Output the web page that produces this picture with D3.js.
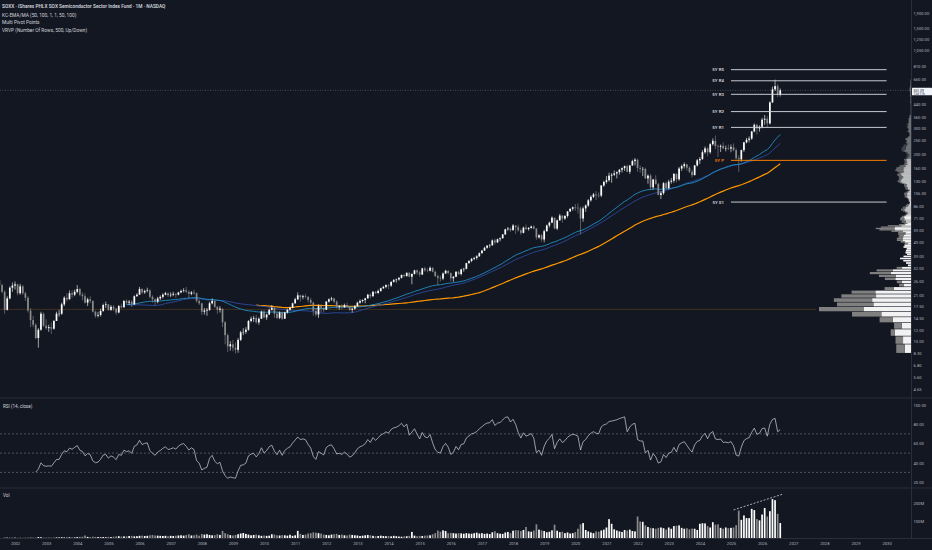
<!DOCTYPE html>
<html lang="en">
<head>
<meta charset="UTF-8">
<title>SOXX monthly</title>
<script src="https://cdn.jsdelivr.net/npm/d3@7"></script>
<style>
  body { margin: 0; background: #131722; }
  svg { display: block; font-family: Roboto, "Noto Sans", sans-serif; }
</style>
</head>
<body>
<script>
// ---- data (monthly bars, first bar = Jul 2001) ----
const firstOpen = 26.5;

const closes = [
  24.5, 22, 16.5, 19.8, 23.5, 24.3,                                   // 2001 Jul-Dec
  24.8, 21.5, 24, 21.5, 20, 16.3, 14, 13, 10.5, 12, 15.5, 12.8,       // 2002
  12.3, 12.5, 12.2, 13.8, 15.5, 15.5, 18, 20, 19.5, 21.5, 21, 22,     // 2003
  23, 21, 20.5, 18.5, 19.5, 19, 16, 15, 15.2, 16.2, 17.8, 18,         // 2004
  16.5, 17.3, 16.8, 15.8, 17.5, 17.2, 19, 18.5, 18.8, 18, 20.5, 21,   // 2005
  23, 21.8, 22.3, 22.5, 20.3, 19.5, 18.8, 19.8, 20.3, 21, 21.5, 20.8, // 2006
  21, 21.3, 21, 21.8, 22.3, 22.5, 22, 21.3, 21.8, 21.5, 19, 18.3,     // 2007
  16, 16.3, 16.5, 18.3, 19, 17.3, 16.5, 16.8, 13.5, 11, 9.2, 9.5,     // 2008
  9, 8.7, 10.2, 11.5, 11.6, 12, 13.8, 14.3, 14.5, 13.5, 14.3, 16,     // 2009
  14.6, 15.3, 16.5, 17, 15.5, 14.5, 15.8, 14.3, 15.8, 16.5, 17, 18.3, // 2010
  19.5, 20.8, 20.2, 20.5, 20.3, 19.3, 18.5, 16.2, 15.3, 17.5, 17, 16.5, // 2011
  18.8, 19.5, 19.8, 18.8, 17.3, 17.5, 17.2, 17.8, 17.3, 16.5, 16.8, 17.5, // 2012
  18.5, 19, 19.3, 19.8, 21, 20.5, 22, 21.5, 22.3, 23.3, 23.8, 24.5,   // 2013
  24.3, 25.8, 26.5, 26.8, 27.5, 28.8, 28.3, 29.8, 28, 29.3, 31, 30,   // 2014
  29, 32, 31, 30.8, 32.3, 30.3, 28.3, 27.5, 27.2, 29.5, 30.8, 29.7,   // 2015
  27.3, 28, 30.3, 29.2, 31.5, 31.8, 34.8, 36, 37.3, 37.8, 38.8, 40.8, // 2016
  42.5, 44.5, 46, 46.3, 50, 48.5, 51, 51.8, 55, 59.8, 60.5, 59,       // 2017
  63.5, 61.8, 58.8, 56.5, 61.5, 60, 61, 62.5, 60.5, 52.5, 54.3, 50.8, // 2018
  58, 63.5, 66.5, 72, 60.5, 69, 74.5, 71, 74, 79.5, 83, 85,           // 2019
  84.5, 83.5, 71, 83.5, 87.5, 95, 100.5, 104.5, 103, 102.5, 120.5, 127.5, // 2020
  131, 141, 143, 146, 149, 155, 159, 164, 150, 166, 178, 182,         // 2021
  159.5, 157, 157, 135, 141, 117, 132.5, 123.5, 103.5, 106.5, 125, 115.5, // 2022
  128, 130, 145, 133, 158, 164, 169, 160, 150, 142, 166, 180,         // 2023
  184, 205, 218, 205, 233, 246, 226, 224, 227, 218, 219, 217.4,       // 2024
  222, 212, 186, 183, 212, 240, 250, 255, 286, 318, 300, 308,         // 2025
  345, 350, 325, 455, 560, 590, 515, 551.39                           // 2026 Jan-Aug
];

const highs = [
  27, 25, 22.5, 20.5, 24, 25.5,
  26, 25, 25, 24.5, 22, 20.5, 17, 15, 13.3, 12.3, 16, 15.8,
  14.2, 13, 13.5, 14, 16, 16.5, 18.5, 20.5, 21.5, 22.5, 22.5, 22.8,
  24.5, 23.5, 21.8, 21.5, 20, 20.5, 19.2, 16.3, 16, 16.8, 18.2, 18.8,
  18, 17.8, 17.8, 17, 17.8, 18.2, 19.3, 19.5, 19.3, 19.2, 20.8, 21.5,
  23.8, 23.3, 22.8, 23.5, 23, 20.8, 19.8, 20.3, 20.8, 21.5, 22, 21.8,
  21.8, 22, 21.5, 22, 22.8, 23.3, 23.8, 22.5, 22.3, 22.8, 21.8, 19.5,
  18.5, 17, 17, 18.8, 19.8, 19.3, 17.5, 17.5, 16.8, 13.8, 11.3, 10,
  10.2, 9.8, 10.5, 11.8, 12.3, 12.5, 14, 14.8, 15, 15.2, 14.6, 16.3,
  16.5, 15.5, 16.8, 17.8, 17.3, 16.2, 16.1, 16, 16, 16.8, 17.4, 18.5,
  20, 21.8, 21, 21, 21.2, 20.5, 20, 18.8, 17, 18, 17.8, 17.3,
  19, 19.8, 20.3, 20, 19.2, 17.8, 18, 18.2, 18.5, 17.5, 17, 17.8,
  18.8, 19.5, 19.5, 20, 21.3, 21.5, 22.3, 22.3, 22.8, 23.5, 24.2, 24.8,
  25, 26, 27, 27.2, 27.8, 29, 29.3, 30, 30.2, 29.5, 31.3, 31.5,
  30.8, 32.3, 32.8, 32, 33, 32.5, 30.8, 29, 28.5, 30, 31.3, 31,
  30, 28.3, 30.6, 30.8, 31.8, 32.3, 35, 36.5, 37.8, 38.5, 39.5, 41.3,
  43, 45.2, 46.5, 47.3, 50.8, 51.5, 51.5, 52.5, 55.5, 60.3, 62, 61.5,
  65, 64, 64.5, 60.5, 62.3, 64.5, 62, 63.5, 63.8, 61, 55.3, 55.5,
  59.5, 64.5, 67.5, 73.5, 72, 70, 76.5, 74.5, 75, 80, 83.5, 86,
  89.5, 90.5, 86, 86, 89, 97, 103, 107, 110, 108, 121.5, 130,
  140, 148, 147, 153, 151, 157, 161, 166, 168, 167, 182, 187,
  185, 166, 162, 160, 144, 145, 134, 142, 126, 110, 127, 129,
  132, 136, 147, 146, 162, 168, 174, 170, 164, 155, 167, 184,
  190, 212, 225, 222, 237, 256, 267.6, 232, 232, 240, 228, 232,
  232, 236, 218, 195, 214, 242, 258, 264, 288, 325, 322, 315,
  355, 372, 365, 462, 585, 655, 610, 568
];

const lows = [
  22.8, 21.5, 15.5, 16.3, 19.5, 22,
  22.8, 20.8, 21, 21, 19, 15.8, 12.5, 12.5, 10.3, 9, 11.8, 12.5,
  12, 11.6, 11.2, 12, 13.8, 14.8, 15.2, 17.5, 18.8, 19.5, 20, 20.5,
  21.5, 20.5, 19.2, 18.2, 17.5, 18.3, 15.8, 14.5, 14.6, 14.8, 16, 17,
  16.2, 16.2, 16.2, 15.2, 15.6, 16.8, 17, 18, 17.8, 17.2, 17.8, 20.3,
  21, 21.2, 21.3, 21.8, 19.8, 18.5, 17.8, 18.3, 19.3, 19.8, 20.8, 20.2,
  20.2, 20.5, 20, 20.8, 21.5, 21.8, 21.5, 19.8, 20.8, 21, 18.5, 17.8,
  15.2, 15.3, 15, 16.2, 18, 17, 15.5, 15.8, 12.5, 9.5, 8.4, 8.6,
  8.5, 8.2, 8.3, 10, 11, 11.2, 11.8, 13.5, 13.6, 13.2, 13, 14.3,
  14.3, 14, 15.2, 16.3, 14.5, 14.2, 14.2, 14, 14.3, 15.5, 16.3, 16.9,
  18.2, 19.3, 18.8, 19.5, 19.8, 18.5, 18, 15, 14.8, 14.5, 15.8, 15.8,
  16.5, 18.5, 19, 18.3, 16.8, 16.5, 16.6, 17, 17, 16.2, 15.8, 16.5,
  17.3, 18.2, 18.5, 18.3, 19.8, 19.8, 20.3, 21.2, 21.5, 22, 23, 23.3,
  23, 23.8, 25.5, 25.5, 26.3, 27.2, 27.8, 28, 27.8, 24.8, 29, 29,
  28, 28.8, 30.3, 30, 30.5, 30, 27.8, 24.5, 26, 26.5, 29.3, 29,
  26, 25.8, 27.8, 28.8, 28.6, 30.3, 31.5, 34.5, 35.3, 36.5, 36.8, 38.5,
  40.5, 42.3, 43.8, 44.5, 46, 46.8, 48, 49.3, 51.5, 55, 58.3, 57.3,
  58.5, 55.5, 57.5, 54.8, 56, 59, 58.5, 60.5, 59.5, 50.5, 51.5, 49,
  48.5, 57.5, 61.5, 66, 60, 59, 68.5, 66.5, 69.5, 72, 79, 80.5,
  80.5, 77, 55, 67.5, 79, 85.5, 93, 98.5, 95.5, 99, 100, 118,
  124, 128, 126, 140, 135, 143, 148, 152, 149, 145, 165, 166,
  150, 148, 140, 134, 124, 112, 113, 122, 103, 97, 104, 113,
  113, 124, 126, 127, 130, 152, 158, 153, 147, 137, 142, 163,
  170, 181, 200, 192, 200, 228, 215, 190, 206, 215, 208, 212,
  205, 208, 182, 150, 176, 206, 236, 240, 250, 282, 272, 285,
  300, 318, 305, 320, 450, 545, 495, 500
];

// monthly volume, millions of shares
const volumes = [
  3, 3, 6, 5, 4, 4,
  5, 4, 4, 4, 5, 5, 7, 5, 5, 8, 7, 5,
  5, 4, 5, 4, 6, 6, 7, 6, 7, 7, 6, 6,
  8, 9, 10, 17, 9, 8, 10, 9, 8, 7, 8, 7,
  9, 8, 10, 12, 13, 11, 12, 12, 14, 15, 12, 13,
  15, 16, 14, 15, 18, 20, 17, 16, 15, 14, 15, 13,
  15, 14, 16, 17, 18, 16, 20, 24, 17, 18, 22, 16,
  25, 22, 24, 20, 18, 19, 24, 20, 43, 30, 24, 19,
  17, 20, 24, 28, 31, 26, 22, 18, 20, 22, 18, 15,
  17, 15, 16, 24, 22, 18, 17, 19, 18, 16, 21, 15,
  18, 43, 26, 20, 22, 28, 30, 35, 33, 30, 28, 22,
  20, 18, 22, 24, 26, 20, 22, 18, 17, 22, 20, 18,
  17, 14, 16, 18, 20, 18, 15, 13, 14, 16, 14, 13,
  14, 12, 15, 13, 11, 10, 12, 13, 15, 37, 16, 13,
  15, 14, 16, 17, 18, 24, 30, 45, 38, 46, 42, 30,
  32, 30, 28, 30, 29, 27, 30, 28, 27, 30, 33, 28,
  30, 26, 28, 25, 35, 41, 30, 27, 26, 34, 37, 30,
  44, 47, 46, 42, 48, 65, 40, 38, 45, 80, 50, 46,
  42, 35, 38, 46, 78, 44, 36, 38, 30, 34, 28, 30,
  36, 55, 80, 87, 48, 40, 34, 30, 40, 38, 45, 50,
  62, 109, 83, 52, 45, 40, 37, 48, 45, 50, 42, 40,
  124, 96, 94, 74, 65, 60, 58, 55, 60, 62, 58, 50,
  62, 55, 70, 72, 74, 60, 55, 58, 52, 56, 55, 48,
  83, 86, 85, 70, 62, 92, 78, 80, 60, 55, 62, 58,
  60, 62, 75, 157, 105, 130, 115, 115, 167, 160, 110, 102,
  135, 172, 124, 154, 222, 216, 139, 87
];

const priceTicks = [1900, 1500, 1250, 1050, 810, 660, 440, 360, 300, 250, 200, 160, 130, 106,
  86, 71, 59, 49, 39, 32, 26, 21, 17.5, 14.5, 12, 10, 8.3, 6.8, 5.6, 4.65];
const rsiTicks = [100, 80, 60, 40, 20];
const rsiBands = [70, 50, 30];
const volTicks = [200, 100];
const years = d3.range(2002, 2031);

// user drawn volume trend line: [bar index, volume M]
const volTrend = [[283, 161], [302, 250]];

const legendLines = [
  'SOXX · iShares PHLX SOX Semiconductor Sector Index Fund · 1M · NASDAQ',
  'KC-EMA/MA (50, 100, 1, 1, 50, 100)',
  'Multi Pivot Points',
  'VRVP (Number Of Rows, 500, Up/Down)'
];

// ---- layout ----
const W = 932, H = 550, axisX = 911;
const colUp = '#ffffff', colDn = '#8a8a8a';

const svg = d3.select('body').append('svg').attr('width', W).attr('height', H);
svg.append('rect').attr('width', W).attr('height', H).attr('fill', '#131722');

const defs = svg.append('defs');
defs.append('clipPath').attr('id', 'clipMain').append('rect').attr('width', axisX).attr('height', 398);
defs.append('clipPath').attr('id', 'clipRsi').append('rect').attr('y', 398).attr('width', axisX).attr('height', 90);
defs.append('clipPath').attr('id', 'clipVol').append('rect').attr('y', 488).attr('width', axisX).attr('height', 50.5);

const yearOf = i => 2001 + Math.floor((i + 6) / 12);
const idxOf = yr => (yr - 2002) * 12 + 6;

const x = d3.scaleLinear().domain([6, 342]).range([15, 886.6]);
const y = d3.scaleLog().domain([1900, 4.65]).range([13, 389]);
const yRsi = d3.scaleLinear().domain([100, 20]).range([405, 482]);
const yVol = d3.scaleLinear().domain([0, 200]).range([538.5, 503]);

// monthly open taken as the prior month's close
const bars = closes.map((c, i) => ({
  i, c, o: i ? closes[i - 1] : firstOpen, h: highs[i], l: lows[i], v: volumes[i]
}));

// ---- indicators ----
function sma(src, len) {
  return src.map((d, i) => i < len - 1 ? null : d3.mean(src.slice(i - len + 1, i + 1)));
}
function ema(src, len) {
  const a = 2 / (len + 1), out = src.map(() => null);
  for (let i = len - 1; i < src.length; i++) {
    out[i] = i === len - 1 ? d3.mean(src.slice(0, len)) : a * src[i] + (1 - a) * out[i - 1];
  }
  return out;
}
function rsi(src, len) {
  const out = src.map(() => null);
  let up = 0, dn = 0;
  for (let i = 1; i < src.length; i++) {
    const ch = src[i] - src[i - 1];
    const u = Math.max(ch, 0), d = Math.max(-ch, 0);
    if (i <= len) { up += u / len; dn += d / len; }
    else { up = (up * (len - 1) + u) / len; dn = (dn * (len - 1) + d) / len; }
    if (i >= len) out[i] = dn === 0 ? 100 : 100 - 100 / (1 + up / dn);
  }
  return out;
}

const ema50 = ema(closes, 50);
const sma50 = sma(closes, 50);
const sma100 = sma(closes, 100);
const rsi14 = rsi(closes, 14);

// ---- main pane ----
const main = svg.append('g').attr('clip-path', 'url(#clipMain)');

// volume profile (visible range, 500 rows, up/down)
const lo = d3.min(lows), hi = d3.max(highs), nRows = 500, step = (hi - lo) / nRows;
const rows = d3.range(nRows).map(k => ({ lo: lo + k * step, hi: lo + (k + 1) * step, up: 0, dn: 0 }));
bars.forEach(b => {
  const span = b.h - b.l;
  const k0 = Math.max(0, Math.floor((b.l - lo) / step));
  const k1 = Math.min(nRows - 1, Math.floor((b.h - lo) / step));
  for (let k = k0; k <= k1; k++) {
    const ov = Math.min(b.h, rows[k].hi) - Math.max(b.l, rows[k].lo);
    if (ov <= 0) continue;
    const part = b.v * ov / span;
    if (b.c >= b.o) rows[k].up += part; else rows[k].dn += part;
  }
});
rows.forEach(r => r.tot = r.up + r.dn);
const pocIdx = d3.maxIndex(rows, r => r.tot);
const poc = rows[pocIdx];
// value area 70%
const total = d3.sum(rows, r => r.tot);
let vaLo = pocIdx, vaHi = pocIdx, vaSum = poc.tot;
while (vaSum < total * 0.7 && (vaLo > 0 || vaHi < nRows - 1)) {
  const below = vaLo > 0 ? rows[vaLo - 1].tot : -1;
  const above = vaHi < nRows - 1 ? rows[vaHi + 1].tot : -1;
  if (above >= below) { vaHi++; vaSum += above; } else { vaLo--; vaSum += below; }
}
const wScale = d3.scaleLinear().domain([0, poc.tot]).range([0, 92]);
const prof = main.append('g');
rows.forEach((r, k) => {
  const top = y(r.hi), bot = y(r.lo);
  let h = bot - top;
  if (h > 2) h -= 0.6;
  const inVA = k >= vaLo && k <= vaHi;
  const op = inVA ? 1 : 0.5;
  const wu = wScale(r.up), wd = wScale(r.dn);
  prof.append('rect').attr('x', axisX - wu).attr('y', top).attr('width', wu).attr('height', h)
    .attr('fill', '#f2f2f2').attr('opacity', op);
  prof.append('rect').attr('x', axisX - wu - wd).attr('y', top).attr('width', wd).attr('height', h)
    .attr('fill', '#7f7f7f').attr('opacity', op);
});

// POC line
const pocY = y((poc.lo + poc.hi) / 2);
main.append('line').attr('x1', 0).attr('x2', axisX - 95).attr('y1', pocY).attr('y2', pocY)
  .attr('stroke', '#5e4320').attr('stroke-width', 0.6);

// last price line
const last = bars[bars.length - 1];
main.append('line').attr('x1', 0).attr('x2', axisX).attr('y1', y(last.c)).attr('y2', y(last.c))
  .attr('stroke', '#787b86').attr('stroke-width', 0.5).attr('stroke-dasharray', '1,1.5');

// moving averages
const maLine = src => d3.line().defined(d => src[d] != null).x(d => x(d)).y(d => y(src[d]));
const idx = d3.range(closes.length);
main.append('path').attr('d', maLine(sma100)(idx)).attr('fill', 'none').attr('stroke', '#ff9800').attr('stroke-width', 1.2);
main.append('path').attr('d', maLine(sma50)(idx)).attr('fill', 'none').attr('stroke', '#2b4aa0').attr('stroke-width', 0.9);
main.append('path').attr('d', maLine(ema50)(idx)).attr('fill', 'none').attr('stroke', '#1f8ec4').attr('stroke-width', 0.9);

// candles
const cw = 1.7;
const cg = main.append('g');
cg.selectAll('line').data(bars).enter().append('line')
  .attr('x1', d => x(d.i)).attr('x2', d => x(d.i))
  .attr('y1', d => y(d.h)).attr('y2', d => y(d.l))
  .attr('stroke', d => d.c >= d.o ? colUp : colDn).attr('stroke-width', 0.6);
cg.selectAll('rect').data(bars).enter().append('rect')
  .attr('x', d => x(d.i) - cw / 2).attr('width', cw)
  .attr('y', d => y(Math.max(d.o, d.c)))
  .attr('height', d => Math.max(0.5, y(Math.min(d.o, d.c)) - y(Math.max(d.o, d.c))))
  .attr('fill', d => d.c >= d.o ? colUp : colDn);

// 5Y pivot points from previous 5-year period (2020-2024)
const prev = bars.filter(b => yearOf(b.i) >= 2020 && yearOf(b.i) <= 2024);
const pH = d3.max(prev, b => b.h), pL = d3.min(prev, b => b.l), pC = prev[prev.length - 1].c;
const P = (pH + pL + pC) / 3;
const levels = [
  ['5Y R5', 4 * P + (pH - 4 * pL)],
  ['5Y R4', 3 * P + (pH - 3 * pL)],
  ['5Y R3', pH + 2 * (P - pL)],
  ['5Y R2', P + (pH - pL)],
  ['5Y R1', 2 * P - pL],
  ['5Y P', P],
  ['5Y S1', 2 * P - pH],
  ['5Y S2', P - (pH - pL)]
].filter(d => d[1] > 0);
const px0 = x(idxOf(2025)), px1 = x(idxOf(2030));
const pg = main.append('g');
levels.forEach(([name, v]) => {
  const col = name === '5Y P' ? '#f57c00' : '#c8cad0';
  pg.append('line').attr('x1', px0).attr('x2', px1).attr('y1', y(v)).attr('y2', y(v))
    .attr('stroke', col).attr('stroke-width', 1);
  pg.append('text').attr('x', px0 - 7).attr('y', y(v)).attr('dy', '0.35em')
    .attr('text-anchor', 'end').attr('font-size', 4.4).attr('font-weight', 600)
    .attr('fill', name === '5Y P' ? '#f57c00' : '#d1d4dc').text(name);
});

// ---- RSI pane ----
const rg = svg.append('g').attr('clip-path', 'url(#clipRsi)');
rsiBands.forEach(v => {
  rg.append('line').attr('x1', 0).attr('x2', axisX).attr('y1', yRsi(v)).attr('y2', yRsi(v))
    .attr('stroke', '#787b86').attr('stroke-width', 0.6).attr('stroke-dasharray', '2,2');
});
rg.append('path')
  .attr('d', d3.line().defined(d => rsi14[d] != null).x(d => x(d)).y(d => yRsi(rsi14[d]))(idx))
  .attr('fill', 'none').attr('stroke', '#d1d4dc').attr('stroke-width', 0.7);

// ---- volume pane ----
const vg = svg.append('g').attr('clip-path', 'url(#clipVol)');
vg.selectAll('rect').data(bars).enter().append('rect')
  .attr('x', d => x(d.i) - cw / 2).attr('width', cw)
  .attr('y', d => yVol(d.v)).attr('height', d => yVol(0) - yVol(d.v))
  .attr('fill', d => d.c >= d.o ? colUp : colDn);
vg.append('line')
  .attr('x1', x(volTrend[0][0])).attr('y1', yVol(volTrend[0][1]))
  .attr('x2', x(volTrend[1][0])).attr('y2', yVol(volTrend[1][1]))
  .attr('stroke', '#d1d4dc').attr('stroke-width', 0.8).attr('stroke-dasharray', '2,1.5');

// ---- separators ----
const sep = '#2a2e39';
[398, 488, 538.5].forEach(v => svg.append('line').attr('x1', 0).attr('x2', W).attr('y1', v).attr('y2', v)
  .attr('stroke', sep).attr('stroke-width', 1));
svg.append('line').attr('x1', axisX + 0.5).attr('x2', axisX + 0.5).attr('y1', 0).attr('y2', 538.5)
  .attr('stroke', sep).attr('stroke-width', 1);

// ---- axes ----
function styleAxis(g) {
  g.select('.domain').remove();
  g.selectAll('text').attr('fill', '#b2b5be').attr('font-size', 4.1)
    .attr('font-family', 'Roboto, "Noto Sans", sans-serif');
}
svg.append('g').attr('transform', `translate(${axisX + 1},0)`)
  .call(d3.axisRight(y).tickValues(priceTicks).tickSize(0).tickPadding(1.5).tickFormat(d3.format(',.2f')))
  .call(styleAxis);
svg.append('g').attr('transform', `translate(${axisX + 1},0)`)
  .call(d3.axisRight(yRsi).tickValues(rsiTicks).tickSize(0).tickPadding(1.5).tickFormat(d3.format('.2f')))
  .call(styleAxis);
svg.append('g').attr('transform', `translate(${axisX + 1},0)`)
  .call(d3.axisRight(yVol).tickValues(volTicks).tickSize(0).tickPadding(1.5).tickFormat(d => d + 'M'))
  .call(styleAxis);
svg.append('g').attr('transform', 'translate(0,541)')
  .call(d3.axisBottom(x).tickValues(years.map(idxOf)).tickSize(0).tickPadding(1).tickFormat(d => yearOf(d)))
  .call(styleAxis);

// last price tag
const ly = y(last.c);
svg.append('rect').attr('x', axisX + 1).attr('y', ly - 2.6).attr('width', 20).attr('height', 7.6)
  .attr('fill', '#f0f3fa').attr('rx', 0.6);
svg.append('text').attr('x', axisX + 2.5).attr('y', ly).attr('dy', '0.35em')
  .attr('font-size', 3.4).attr('fill', '#131722').text(d3.format(',.2f')(last.c));
svg.append('text').attr('x', axisX + 2.5).attr('y', ly + 3.3).attr('dy', '0.35em')
  .attr('font-size', 3.1).attr('fill', '#131722').text('12d 11h');

// ---- legends ----
const legY = [6.2, 15, 22.7, 30.3];
legendLines.forEach((t, k) => {
  svg.append('text').attr('x', 2).attr('y', legY[k]).attr('dy', '0.35em')
    .attr('font-size', 4.8).attr('font-weight', k === 0 ? 600 : 400)
    .attr('fill', '#d1d4dc').text(t);
});
svg.append('text').attr('x', 3).attr('y', 406).attr('dy', '0.35em')
  .attr('font-size', 4.6).attr('fill', '#d1d4dc').text('RSI (14, close)');
svg.append('text').attr('x', 3).attr('y', 495).attr('dy', '0.35em')
  .attr('font-size', 4.6).attr('fill', '#d1d4dc').text('Vol');
</script>
</body>
</html>
